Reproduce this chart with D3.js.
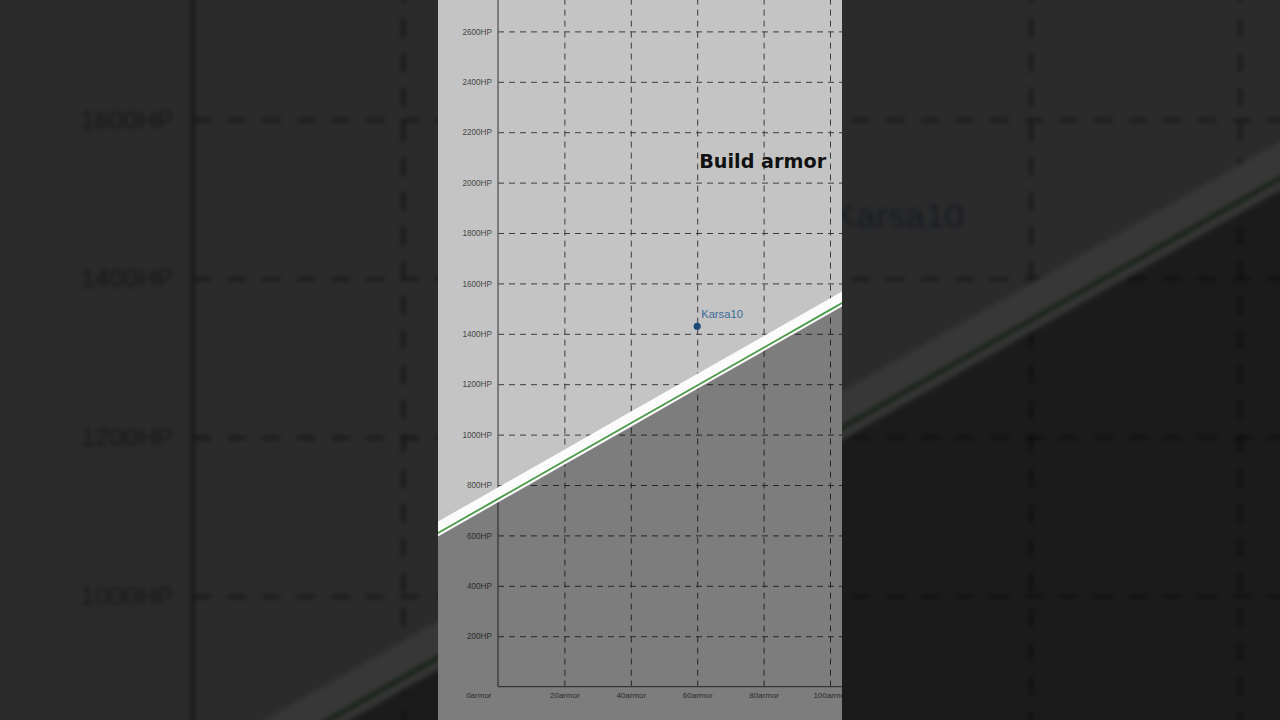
<!DOCTYPE html>
<html>
<head>
<meta charset="utf-8">
<script src="https://cdn.jsdelivr.net/npm/d3@7"></script>
<style>
  html, body { margin: 0; padding: 0; background: #000; overflow: hidden; }
  svg { display: block; }
</style>
</head>
<body>
<svg id="frame" width="1280" height="720"></svg>
<script>
// Tick values
const armorTicks = [0, 20, 40, 60, 80, 100]
const hpTicks = [200, 400, 600, 800, 1000, 1200, 1400, 1600, 1800, 2000, 2200, 2400, 2600]

// Break-even line
const lineArmor = [-20, 0, 20, 40, 60, 80, 100, 120]
const lineHP = [595, 745, 895, 1045, 1195, 1345, 1495, 1645]

// Champion points
const champNames = ['Karsa10']
const champArmor = [60]
const champHP = [1430]

// Region annotation
const regionLabels = ['Build armor']
const regionArmor = [60.6]
const regionHP = [2058]

const W = 1280
const H = 720
const panelLeft = 438
const panelRight = 842
const zoom = 3.15

const svg = d3.select('#frame')
const defs = svg.append('defs')

const x = d3.scaleLinear().domain([0, 100]).range([498, 830])
const y = d3.scaleLinear().domain([0, 2600]).range([686.6, 31.4])

// in the background layer, drop texts that land off the frame
function keepVisible (sel) {
  sel.each(function () {
    const b = this.getBoundingClientRect()
    if (b.left < 0 || b.top < 0 || b.right > W || b.bottom > H) d3.select(this).remove()
  })
}

function drawChart (g, isBg) {
  /* Plot background */
  g.append('rect')
    .attr('x', panelLeft - 10)
    .attr('y', -10)
    .attr('width', panelRight - panelLeft + 20)
    .attr('height', H + 20)
    .attr('fill', '#c4c4c4')

  // Horizontal grid + HP labels
  const yAxis = d3.axisLeft(y)
    .tickValues(hpTicks)
    .tickFormat(d => d + 'HP')
    .tickSize(-(x(130) - x(0)))
    .tickPadding(6)
  const gy = g.append('g')
    .attr('transform', `translate(${x(0)},0)`)
    .call(yAxis)
  gy.select('.domain').remove()
  gy.selectAll('.tick line')
    .attr('stroke', '#3c3c3c')
    .attr('stroke-width', 1)
    .attr('stroke-dasharray', '6,5')
  gy.selectAll('.tick text')
    .attr('fill', '#474747')
    .attr('font-family', 'Liberation Sans, Arial, sans-serif')
    .attr('font-size', 8.2)

  // Vertical grid + armor labels
  const xAxis = d3.axisBottom(x)
    .tickValues(armorTicks)
    .tickFormat(d => d + 'armor')
    .tickSize(-(y(0) + 40))
    .tickPadding(6)
  const gx = g.append('g')
    .attr('transform', `translate(0,${y(0)})`)
    .call(xAxis)
  gx.select('.domain').remove()
  gx.selectAll('.tick line')
    .attr('stroke', '#3c3c3c')
    .attr('stroke-width', 1)
    .attr('stroke-dasharray', '6,5')
    .attr('stroke-opacity', d => d === 0 ? 0 : 1)
  gx.selectAll('.tick text')
    .attr('fill', '#474747')
    .attr('font-family', 'Liberation Sans, Arial, sans-serif')
    .attr('font-size', 8)
    // first label sits left of the axis
    .attr('text-anchor', d => d === 0 ? 'end' : 'middle')
    .attr('dx', d => d === 0 ? -7 : 0)

  // Axis lines
  g.append('line')
    .attr('x1', x(0)).attr('x2', x(0))
    .attr('y1', -20).attr('y2', y(0))
    .attr('stroke', '#555')
    .attr('stroke-width', 1.3)
  g.append('line')
    .attr('x1', x(0)).attr('x2', x(135))
    .attr('y1', y(0)).attr('y2', y(0))
    .attr('stroke', '#555')
    .attr('stroke-width', 1.3)

  // Region label
  g.selectAll('text.region')
    .data(regionLabels)
    .join('text')
    .attr('class', 'region')
    .attr('x', (d, i) => x(regionArmor[i]))
    .attr('y', (d, i) => y(regionHP[i]))
    .attr('font-family', 'DejaVu Sans, Verdana, sans-serif')
    .attr('font-weight', 'bold')
    .attr('font-size', 19.2)
    .attr('fill', '#111')
    .text(d => d)

  // Champion points
  g.selectAll('circle.champ')
    .data(champNames)
    .join('circle')
    .attr('class', 'champ')
    .attr('cx', (d, i) => x(champArmor[i]))
    .attr('cy', (d, i) => y(champHP[i]))
    .attr('r', 3.6)
    .attr('fill', '#1d4a78')
  g.selectAll('text.champ')
    .data(champNames)
    .join('text')
    .attr('class', 'champ')
    .attr('x', (d, i) => x(champArmor[i]) + 4)
    .attr('y', (d, i) => y(champHP[i]) - 8)
    .attr('font-family', 'Liberation Sans, Arial, sans-serif')
    .attr('font-size', 11.2)
    .attr('fill', '#3d6b98')
    .text(d => d)

  /* Shaded region under the line */
  const pts = lineArmor.map((a, i) => [a, lineHP[i]])
  const area = d3.area()
    .x(d => x(d[0]))
    .y0(H + 40)
    .y1(d => y(d[1]))
  g.append('path')
    .datum(pts)
    .attr('d', area)
    .attr('fill', '#000')
    .attr('fill-opacity', 0.36)

  const line = d3.line()
    .x(d => x(d[0]))
    .y(d => y(d[1]))

  // White band
  g.append('path')
    .datum(pts)
    .attr('d', line)
    .attr('transform', 'translate(0,-4)')
    .attr('fill', 'none')
    .attr('stroke', '#fbfbfb')
    .attr('stroke-width', 13)

  // Green line
  g.append('path')
    .datum(pts)
    .attr('d', line)
    .attr('fill', 'none')
    .attr('stroke', '#4a9a4a')
    .attr('stroke-width', 1.8)

  if (isBg) keepVisible(g.selectAll('text'))
}

/* BLURRED SIDE BACKGROUND */

  defs.append('filter')
    .attr('id', 'sideBlur')
    .attr('x', '-5%').attr('y', '-5%')
    .attr('width', '110%').attr('height', '110%')
    .append('feGaussianBlur')
    .attr('stdDeviation', 2.4)

  const bg = svg.append('g')
    .attr('filter', 'url(#sideBlur)')
  const bgInner = bg.append('g')
    .attr('transform', `translate(${W / 2},${H / 2}) scale(${zoom}) translate(${-W / 2},${-H / 2})`)
  drawChart(bgInner, true)

  // Darken
  svg.append('rect')
    .attr('width', W)
    .attr('height', H)
    .attr('fill', '#000')
    .attr('fill-opacity', 0.78)

/* CENTRE PANEL */

  defs.append('clipPath')
    .attr('id', 'panelClip')
    .append('rect')
    .attr('x', panelLeft)
    .attr('y', 0)
    .attr('width', panelRight - panelLeft)
    .attr('height', H)

  const panel = svg.append('g')
    .attr('clip-path', 'url(#panelClip)')
  drawChart(panel, false)
</script>
</body>
</html>
